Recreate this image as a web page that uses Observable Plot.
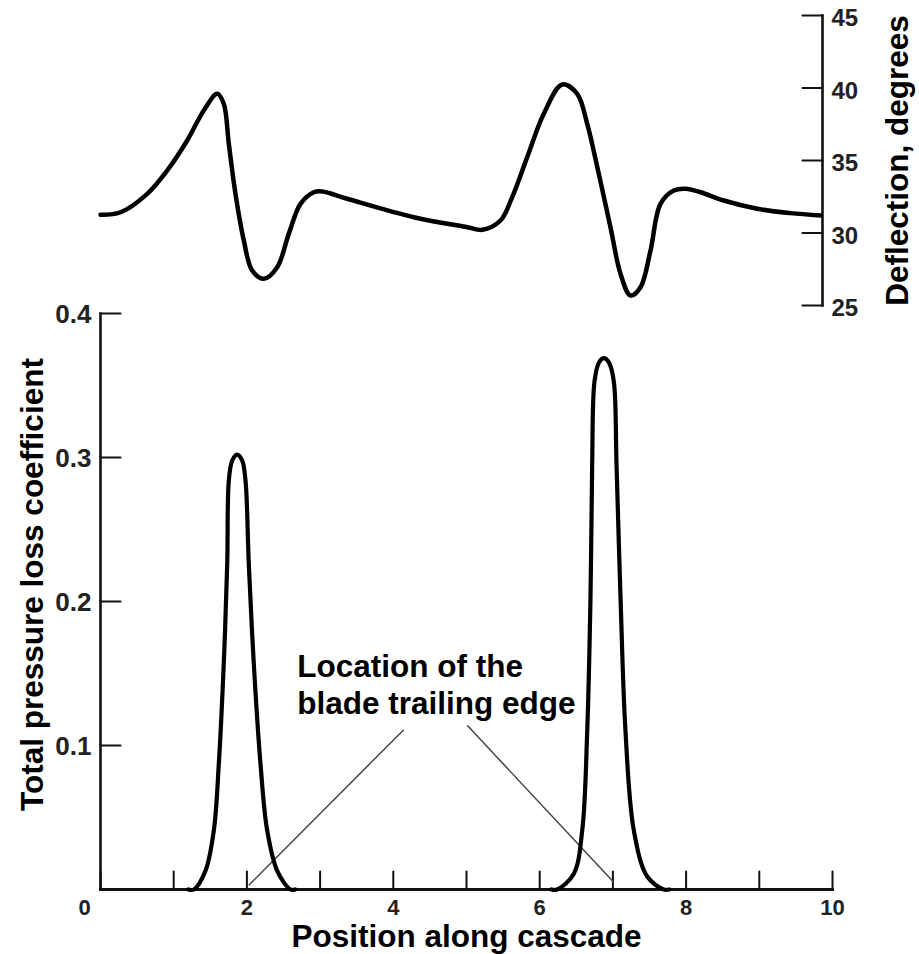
<!DOCTYPE html>
<html>
<head>
<meta charset="utf-8">
<script src="https://cdn.jsdelivr.net/npm/d3@7"></script>
<script src="https://cdn.jsdelivr.net/npm/@observablehq/plot@0.6"></script>
<style>
html, body { margin: 0; padding: 0; background: #fff; }
#chart { position: relative; width: 919px; height: 954px; }
#chart svg { position: absolute; left: 0; top: 0; }
</style>
</head>
<body>
<div id="chart"></div>
<script>
// ---- Data ----
// Deflection (degrees) vs position along cascade (top panel)
const deflX = [0, 0.273, 0.638, 0.911, 1.184, 1.411, 1.594, 1.684, 1.753, 1.844, 1.958, 2.072, 2.231, 2.414, 2.572, 2.732, 2.914, 3.029, 3.370, 4.280, 5.010, 5.215, 5.464, 5.624, 5.829, 6.056, 6.307, 6.512, 6.649, 6.807, 6.967, 7.104, 7.240, 7.377, 7.514, 7.650, 7.832, 7.992, 8.197, 8.515, 8.971, 9.426, 9.836];
const deflY = [31.26, 31.43, 32.70, 34.31, 36.38, 38.45, 39.60, 38.91, 36.15, 32.70, 29.48, 27.41, 26.84, 27.64, 29.94, 32.01, 32.81, 32.86, 32.36, 31.09, 30.40, 30.22, 30.86, 32.47, 35.23, 38.22, 40.24, 39.60, 37.53, 34.08, 30.40, 27.19, 25.69, 26.26, 28.79, 32.01, 32.93, 33.05, 32.81, 32.24, 31.67, 31.37, 31.21];

// Total pressure loss coefficient (bottom panel): two wake peaks
const loss1X = [1.20, 1.275, 1.434, 1.548, 1.616, 1.684, 1.731, 1.753, 1.80, 1.867, 1.935, 1.981, 2.026, 2.094, 2.186, 2.277, 2.414, 2.596, 2.66];
const loss1Y = [0, 0, 0.013, 0.041, 0.087, 0.157, 0.226, 0.284, 0.298, 0.302, 0.298, 0.284, 0.226, 0.157, 0.087, 0.041, 0.013, 0, 0];
const loss2X = [6.16, 6.239, 6.466, 6.581, 6.649, 6.694, 6.717, 6.749, 6.81, 6.876, 6.945, 7.012, 7.049, 7.104, 7.172, 7.286, 7.469, 7.695, 7.77];
const loss2Y = [0, 0, 0.011, 0.041, 0.110, 0.203, 0.296, 0.353, 0.366, 0.369, 0.366, 0.353, 0.296, 0.203, 0.110, 0.041, 0.009, 0, 0];

// Axis ticks and labels
const xTicks = [0, 1, 2, 3, 4, 5, 6, 7, 8, 9, 10];
const xTickLabels = [0, 2, 4, 6, 8, 10];
const lossTicks = [0.1, 0.2, 0.3, 0.4];
const lossTickLabels = ["0.1", "0.2", "0.3", "0.4"];
const deflTicks = [25, 30, 35, 40, 45];
const deflTickLabels = ["25", "30", "35", "40", "45"];

// Annotation: text and leader lines (x1, y1) -> (x2, y2)
const noteText = "Location of the\nblade trailing edge";
const noteX = [2.687];
const noteY = [0.122];
const leaderX1 = [4.143, 5.010];
const leaderY1 = [0.111, 0.114];
const leaderX2 = [2.026, 7.012];
const leaderY2 = [0.003, 0.005];

const xTitle = "Position along cascade";
const lossTitle = "Total pressure loss coefficient";
const deflTitle = "Deflection, degrees";

// ---- Tables built from the arrays ----
const deflection = deflX.map((x, i) => ({x, y: deflY[i]}));
const loss = [
  ...loss1X.map((x, i) => ({x, y: loss1Y[i], peak: "1"})),
  ...loss2X.map((x, i) => ({x, y: loss2Y[i], peak: "2"}))
];
const leaders = leaderX1.map((x1, i) => ({x1, y1: leaderY1[i], x2: leaderX2[i], y2: leaderY2[i]}));
const lossTickData = lossTicks.map((v, i) => ({v, label: lossTickLabels[i]}));
const deflTickData = deflTicks.map((v, i) => ({v, label: deflTickLabels[i]}));

const FONT = "'Liberation Sans', Arial, Helvetica, sans-serif";
const svgStyle = {background: "transparent", overflow: "visible", fontFamily: FONT};
const TICK_COLOR = "#222";

// ---- Bottom panel ----
const bottom = Plot.plot({
  width: 919, height: 954,
  marginLeft: 100, marginRight: 87, marginTop: 313, marginBottom: 65,
  x: {domain: [0, 10], range: [100, 832], axis: null},
  y: {domain: [0, 0.4], axis: null},
  style: svgStyle,
  marks: [
    Plot.frame({anchor: "left", stroke: "#111", strokeWidth: 2.6}),
    Plot.frame({anchor: "bottom", stroke: "#111", strokeWidth: 3}),
    Plot.vector(xTicks, {x: d => d, frameAnchor: "bottom", rotate: 0, length: 18, anchor: "start", shape: "spike", r: 0, stroke: "#111", strokeWidth: 2}),
    Plot.vector(lossTicks, {y: d => d, frameAnchor: "left", rotate: 90, length: 20, anchor: "start", shape: "spike", r: 0, stroke: "#111", strokeWidth: 2.2}),
    Plot.text(lossTickData, {y: "v", text: "label", frameAnchor: "left", textAnchor: "end", dx: -9, dy: 1, fontSize: 26, fontWeight: "bold", fill: TICK_COLOR}),
    Plot.text(xTickLabels.filter(d => d !== 0), {x: d => d, text: d => String(d), frameAnchor: "bottom", textAnchor: "middle", lineAnchor: "top", dy: 10, fontSize: 22, fontWeight: "bold", fill: TICK_COLOR}),
    Plot.text(xTickLabels.filter(d => d === 0), {x: d => d, text: d => String(d), frameAnchor: "bottom", textAnchor: "middle", lineAnchor: "top", dy: 10, dx: -16, fontSize: 22, fontWeight: "bold", fill: TICK_COLOR}),
    Plot.link(leaders, {x1: "x1", y1: "y1", x2: "x2", y2: "y2", stroke: "#444", strokeWidth: 1.5}),
    Plot.line(loss, {x: "x", y: "y", z: "peak", curve: "catmull-rom", stroke: "#000", strokeWidth: 4.2, strokeLinecap: "round", strokeLinejoin: "round"}),
    Plot.text([noteText], {x: () => noteX[0], y: () => noteY[0], text: d => d, textAnchor: "start", lineAnchor: "bottom", lineHeight: 1.18, fontSize: 31.5, fontWeight: "bold", fill: "#000"}),
    Plot.text([xTitle], {text: d => d, frameAnchor: "bottom", textAnchor: "middle", lineAnchor: "bottom", dy: 57.5, fontSize: 31.5, fontWeight: "bold", fill: "#000"}),
    Plot.text([lossTitle], {text: d => d, frameAnchor: "left", textAnchor: "middle", rotate: -90, dx: -68, dy: -17, fontSize: 31.5, fontWeight: "bold", fill: "#000"})
  ]
});

// ---- Top panel ----
const topPanel = Plot.plot({
  width: 919, height: 330,
  marginLeft: 100, marginRight: 97, marginTop: 15, marginBottom: 25,
  x: {domain: [0, 10], range: [100, 832], axis: null},
  y: {domain: [25, 45], axis: null},
  style: svgStyle,
  marks: [
    Plot.frame({anchor: "right", stroke: "#111", strokeWidth: 2.6}),
    Plot.vector(deflTicks, {y: d => d, frameAnchor: "right", rotate: -90, length: 20, anchor: "start", shape: "spike", r: 0, stroke: "#111", strokeWidth: 2.2}),
    Plot.text(deflTickData, {y: "v", text: "label", frameAnchor: "right", textAnchor: "start", dx: 9, dy: 3, fontSize: 24, fontWeight: "bold", fill: TICK_COLOR}),
    Plot.line(deflection, {x: "x", y: "y", curve: "catmull-rom", stroke: "#000", strokeWidth: 4.5, strokeLinecap: "round", strokeLinejoin: "round"}),
    Plot.text([deflTitle], {text: d => d, frameAnchor: "right", textAnchor: "middle", rotate: -90, dx: 75, fontSize: 31.5, fontWeight: "bold", fill: "#000"})
  ]
});

const chart = document.getElementById("chart");
chart.appendChild(bottom);
chart.appendChild(topPanel);
</script>
</body>
</html>
